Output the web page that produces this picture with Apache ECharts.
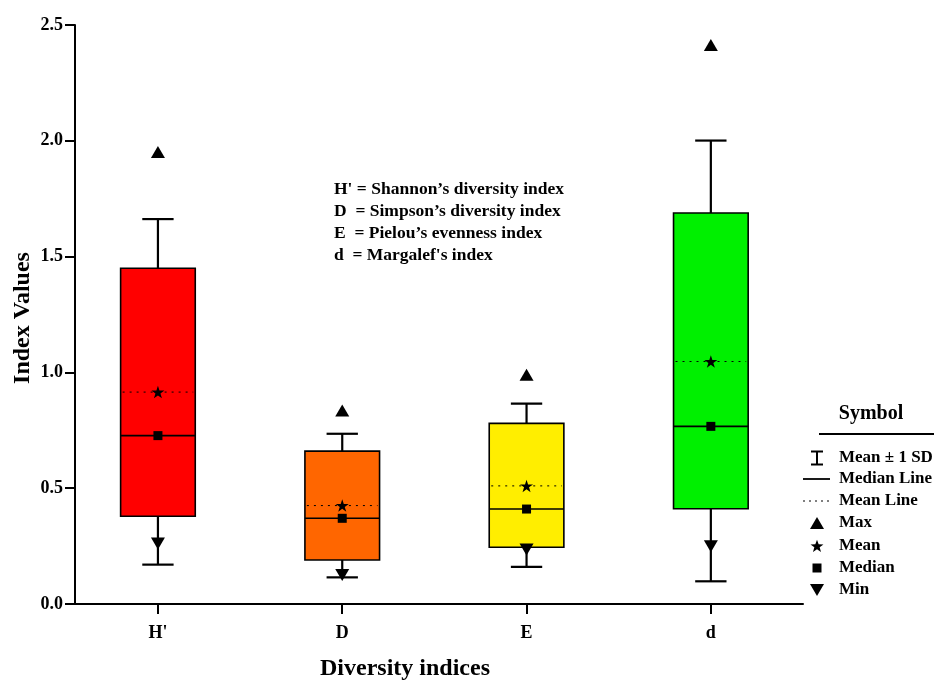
<!DOCTYPE html>
<html><head><meta charset="utf-8">
<script src="https://cdn.jsdelivr.net/npm/echarts@6/dist/echarts.min.js"></script>
<style>html,body{margin:0;padding:0;background:#fff}#c{width:936px;height:681px}</style>
</head><body><div id="c"></div>
<script>
// ---- data ----
const categories = ["H'", "D", "E", "d"];
const boxColors = ['#ff0000', '#ff6600', '#ffee00', '#00f000'];
const q1Values = [0.379, 0.19, 0.245, 0.411];
const q3Values = [1.450, 0.66, 0.78, 1.688];
const medianValues = [0.727, 0.37, 0.41, 0.767];
const meanValues = [0.915, 0.425, 0.51, 1.047];
const sdLowValues = [0.170, 0.115, 0.16, 0.098];
const sdHighValues = [1.662, 0.735, 0.865, 2.001];
const maxValues = [1.952, 0.835, 0.99, 2.414];
const minValues = [0.261, 0.125, 0.235, 0.249];
const yTickMin = 0, yTickMax = 2.5, yTickStep = 0.5;
const noteLines = [
  "H' = Shannon\u2019s diversity index",
  "D  = Simpson\u2019s diversity index",
  "E  = Pielou\u2019s evenness index",
  "d  = Margalef's index"
];
const legendItems = ['Mean \u00b1 1 SD', 'Median Line', 'Mean Line', 'Max', 'Mean', 'Median', 'Min'];

// ---- chart ----
const FONT = '"Liberation Serif", "Times New Roman", serif';
const positions = categories.map((c, i) => i + 1);
const BOX_W = 0.405, CAP_W = 0.17;
const STAR = 'path://M50,0 L61.2,34.5 L97.6,34.5 L68.2,55.9 L79.4,90.5 L50,69.1 L20.6,90.5 L31.8,55.9 L2.4,34.5 L38.8,34.5 Z';

const boxData = categories.map((c, i) => [i + 1, sdLowValues[i], q1Values[i], medianValues[i], q3Values[i], sdHighValues[i], meanValues[i]]);

function renderBox(params, api) {
  const i = params.dataIndex;
  const x = api.value(0);
  const bw = api.size([BOX_W, 0])[0];
  const cw = api.size([CAP_W, 0])[0];
  const pLow = api.coord([x, api.value(1)]);
  const pQ1 = api.coord([x, api.value(2)]);
  const pMed = api.coord([x, api.value(3)]);
  const pQ3 = api.coord([x, api.value(4)]);
  const pHigh = api.coord([x, api.value(5)]);
  const pMean = api.coord([x, api.value(6)]);
  const cx = pQ1[0];
  const line = (x1, y1, x2, y2, w, dash) => ({
    type: 'line', shape: { x1, y1, x2, y2 },
    style: { stroke: '#000', lineWidth: w, lineDash: dash || null }
  });
  return {
    type: 'group',
    children: [
      line(cx, pHigh[1], cx, pLow[1], 2.2),
      line(cx - cw / 2, pHigh[1], cx + cw / 2, pHigh[1], 2.2),
      line(cx - cw / 2, pLow[1], cx + cw / 2, pLow[1], 2.2),
      { type: 'rect', shape: { x: cx - bw / 2, y: pQ3[1], width: bw, height: pQ1[1] - pQ3[1] },
        style: { fill: boxColors[i], stroke: '#000', lineWidth: 1.6 } },
      line(cx - bw / 2, pMed[1], cx + bw / 2, pMed[1], 1.6),
      line(cx - bw / 2 + 2, pMean[1], cx + bw / 2 - 2, pMean[1], 1, [2, 5])
    ]
  };
}

const symbolSeries = (name, vals, symbol, size, rotate) => ({
  type: 'scatter', name, symbol, symbolSize: size, symbolRotate: rotate || 0,
  itemStyle: { color: '#000', opacity: 1 }, z: 5,
  data: vals.map((v, i) => [i + 1, v])
});

function starPoints(cx, cy, ro, ri) {
  const pts = [];
  for (let k = 0; k < 10; k++) {
    const r = k % 2 === 0 ? ro : ri;
    const a = -Math.PI / 2 + k * Math.PI / 5;
    pts.push([cx + r * Math.cos(a), cy + r * Math.sin(a)]);
  }
  return pts;
}

const txt = { fontFamily: FONT, fontWeight: 'bold', fill: '#000' };
const graphics = [];
noteLines.forEach((t, k) => {
  graphics.push({ type: 'text', x: 334, y: 189 + k * 22,
    style: Object.assign({ text: t, fontSize: 17.5, verticalAlign: 'middle' }, txt) });
});
graphics.push({ type: 'text', x: 871, y: 414, style: Object.assign({ text: 'Symbol', fontSize: 20, align: 'center', verticalAlign: 'middle' }, txt) });
graphics.push({ type: 'line', shape: { x1: 819, y1: 434, x2: 934, y2: 434 }, style: { stroke: '#000', lineWidth: 2 } });
const ly = [458, 479, 501, 523, 546, 568, 590];
legendItems.forEach((t, k) => {
  graphics.push({ type: 'text', x: 839, y: ly[k], style: Object.assign({ text: t, fontSize: 17, verticalAlign: 'middle' }, txt) });
});
// legend icons
graphics.push({ type: 'line', shape: { x1: 817, y1: ly[0] - 6.5, x2: 817, y2: ly[0] + 6.5 }, style: { stroke: '#000', lineWidth: 2 } });
graphics.push({ type: 'line', shape: { x1: 811, y1: ly[0] - 6.5, x2: 823, y2: ly[0] - 6.5 }, style: { stroke: '#000', lineWidth: 2 } });
graphics.push({ type: 'line', shape: { x1: 811, y1: ly[0] + 6.5, x2: 823, y2: ly[0] + 6.5 }, style: { stroke: '#000', lineWidth: 2 } });
graphics.push({ type: 'line', shape: { x1: 803, y1: ly[1], x2: 830, y2: ly[1] }, style: { stroke: '#000', lineWidth: 1.8 } });
graphics.push({ type: 'line', shape: { x1: 803, y1: ly[2], x2: 830, y2: ly[2] }, style: { stroke: '#000', lineWidth: 1, lineDash: [2, 4] } });
graphics.push({ type: 'polygon', shape: { points: [[817, ly[3] - 6], [824, ly[3] + 6], [810, ly[3] + 6]] }, style: { fill: '#000' } });
graphics.push({ type: 'polygon', shape: { points: starPoints(817, ly[4] + 0.5, 6.8, 2.8) }, style: { fill: '#000' } });
graphics.push({ type: 'rect', shape: { x: 812.5, y: ly[5] - 4.5, width: 9, height: 9 }, style: { fill: '#000' } });
graphics.push({ type: 'polygon', shape: { points: [[810, ly[6] - 6], [824, ly[6] - 6], [817, ly[6] + 6]] }, style: { fill: '#000' } });
// axis titles
graphics.push({ type: 'text', x: 405, y: 669, style: Object.assign({ text: 'Diversity indices', fontSize: 24, align: 'center', verticalAlign: 'middle' }, txt) });
graphics.push({ type: 'text', x: 23, y: 318, rotation: Math.PI / 2, style: Object.assign({ text: 'Index Values', fontSize: 24, align: 'center', verticalAlign: 'middle' }, txt) });

const chart = echarts.init(document.getElementById('c'));
chart.setOption({
  animation: false,
  grid: { left: 75, right: 133, top: 25, bottom: 77 },
  xAxis: {
    type: 'value', min: 0.55, max: 4.5,
    axisLine: { onZero: false, lineStyle: { color: '#000', width: 2 } },
    axisTick: { show: true, customValues: positions, length: 10, lineStyle: { color: '#000', width: 2 } },
    axisLabel: { customValues: positions, formatter: v => categories[Math.round(v) - 1] || '', margin: 20,
      fontFamily: FONT, fontWeight: 'bold', fontSize: 18, color: '#000' },
    splitLine: { show: false }
  },
  yAxis: {
    type: 'value', min: yTickMin, max: yTickMax, interval: yTickStep,
    axisLine: { show: true, lineStyle: { color: '#000', width: 2 } },
    axisTick: { show: true, length: 10, lineStyle: { color: '#000', width: 2 } },
    axisLabel: { formatter: v => v.toFixed(1), margin: 12, fontFamily: FONT, fontWeight: 'bold', fontSize: 18, color: '#000' },
    splitLine: { show: false }
  },
  series: [
    { type: 'custom', renderItem: renderBox, data: boxData, z: 2,
      encode: { x: 0, y: [1, 2, 3, 4, 5] } },
    symbolSeries('Max', maxValues, 'triangle', [14, 12]),
    symbolSeries('Mean', meanValues, STAR, [13, 12.5]),
    symbolSeries('Median', medianValues, 'rect', [9, 9]),
    symbolSeries('Min', minValues, 'triangle', [14, 12], 180)
  ],
  graphic: graphics
});
</script></body></html>
